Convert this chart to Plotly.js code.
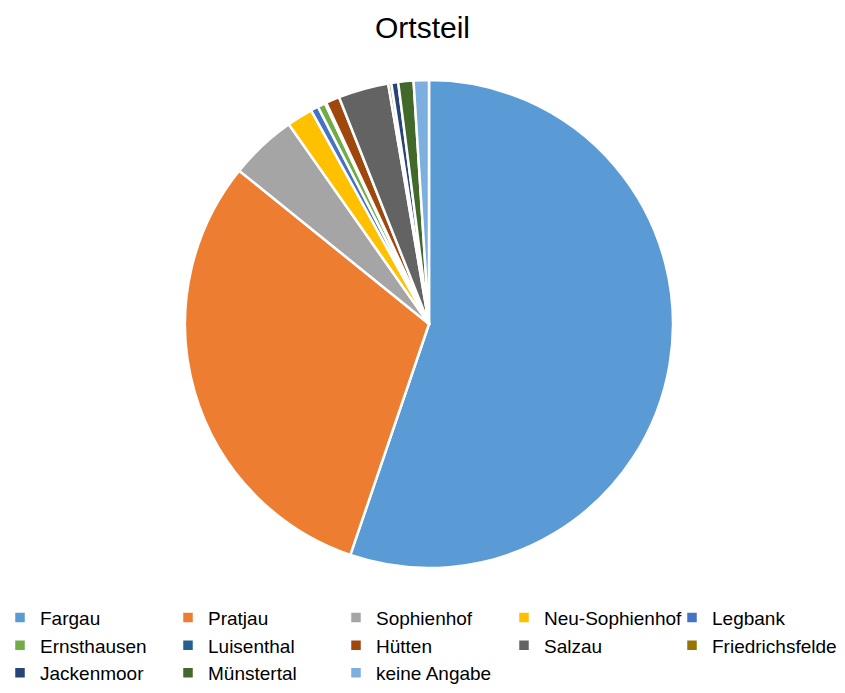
<!DOCTYPE html>
<html><head><meta charset="utf-8">
<script src="https://cdn.plot.ly/plotly-3.0.1.min.js"></script>
<style>html,body{margin:0;padding:0;background:#fff}#c{width:845px;height:693px}</style>
</head><body><div id="c"></div>
<script>
const labels = ["Fargau","Pratjau","Sophienhof","Neu-Sophienhof","Legbank","Ernsthausen","Luisenthal","Hütten","Salzau","Friedrichsfelde","Jackenmoor","Münstertal","keine Angabe"];
const values = [54.7, 30.3, 4.4, 1.7, 0.5, 0.5, 0.1, 0.9, 3.3, 0.2, 0.45, 1.0, 1.0];
const colors = ["#5B9BD5","#ED7D31","#A5A5A5","#FFC000","#4472C4","#70AD47","#255E91","#9E480E","#636363","#997300","#264478","#43682B","#7CAFDD"];

const plotH = 575;
const gd = document.getElementById('c');
const pieTop = 80, pieBottom = 570, pieLeft = 184, pieRight = 674;
Plotly.newPlot(gd, [{
  type: 'pie', labels: labels, values: values, sort: false, direction: 'clockwise', rotation: 0,
  marker: {colors: colors, line: {color: '#ffffff', width: 2.5}},
  textinfo: 'none', hoverinfo: 'label+percent',
  domain: {x: [pieLeft/845, pieRight/845], y: [1-pieBottom/plotH, 1-pieTop/plotH]}
}], {
  width: 845, height: 693,
  margin: {l: 0, r: 0, t: 0, b: 693-plotH},
  paper_bgcolor: '#fff',
  font: {family: 'Liberation Sans, Arial, sans-serif', color: '#000'},
  title: {text: 'Ortsteil', font: {size: 30, color: '#000'}, x: 0.5, xanchor: 'center', y: 1-27/693, yanchor: 'middle'},
  showlegend: true,
  legend: {orientation: 'h', x: 0, xanchor: 'left', y: (plotH-606)/plotH, yanchor: 'top',
    entrywidth: 123, entrywidthmode: 'pixels', font: {size: 19, color: '#000'}, traceorder: 'normal', itemwidth: 30}
}, {displayModeBar: false, staticPlot: true}).then(function(){
  const s = gd._fullLayout._size;
  const bottomPx = s.t + s.h;
  return Plotly.restyle(gd, {
    'domain.y': [[Math.max(0,(bottomPx-pieBottom)/s.h), Math.min(1,(bottomPx-pieTop)/s.h)]],
    'domain.x': [[Math.max(0,(pieLeft-s.l)/s.w), Math.min(1,(pieRight-s.l)/s.w)]]
  });
});
</script></body></html>
